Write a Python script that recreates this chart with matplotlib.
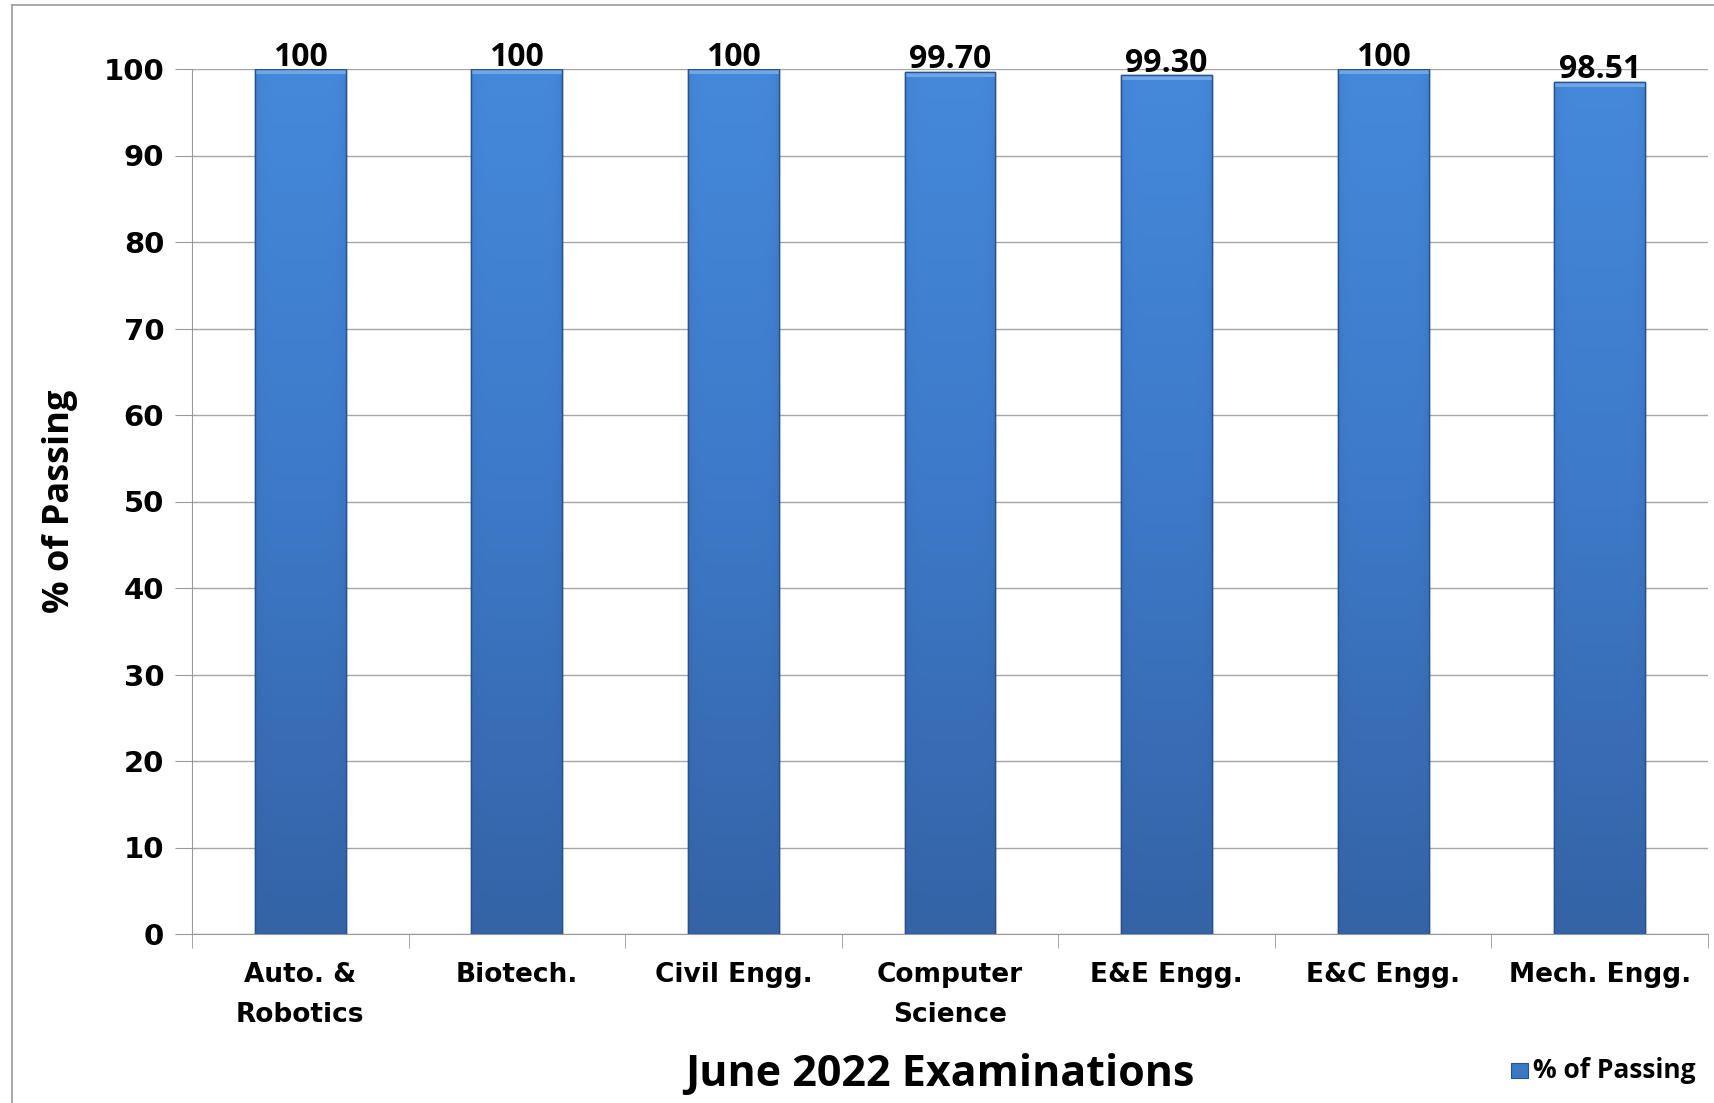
import numpy as np
import matplotlib.pyplot as plt
from matplotlib.patches import Rectangle
from matplotlib.colors import LinearSegmentedColormap

# Data
departments = ['Auto. &\nRobotics', 'Biotech.', 'Civil Engg.', 'Computer\nScience',
               'E&E Engg.', 'E&C Engg.', 'Mech. Engg.']
pass_pct = [100, 100, 100, 99.70, 99.30, 100, 98.51]
pct_labels = ['100', '100', '100', '99.70', '99.30', '100', '98.51']
y_ticks = [0, 10, 20, 30, 40, 50, 60, 70, 80, 90, 100]

label_font = ['Open Sans', 'DejaVu Sans']

fig = plt.figure(figsize=(17.15, 11.03), dpi=100)
ax = fig.add_axes([192/1715, 1 - 934/1103, (1708-192)/1715, (934-69)/1103])

x = np.arange(len(departments))
bars = ax.bar(x, pass_pct, width=0.42, color='#3c78c6', edgecolor='#2a528a',
              linewidth=1.0, zorder=3)

# vertical gradient with slightly darker sides, clipped to each bar
grad_cmap = LinearSegmentedColormap.from_list('bar', ['#3463a6', '#3d79c8', '#4589da'])
vert = np.linspace(0, 1, 256)[:, None]
horiz = np.linspace(-1, 1, 64)[None, :]
shade = vert * (1 - 0.25 * horiz ** 8)
for b in bars:
    x0, w, h = b.get_x(), b.get_width(), b.get_height()
    im = ax.imshow(shade, cmap=grad_cmap, origin='lower', aspect='auto',
                   extent=[x0, x0 + w, 0, h], zorder=3.5, vmin=0, vmax=1)
    im.set_clip_path(b)
    # light bevel along the top edge
    ax.add_patch(Rectangle((x0, h - 0.6), w, 0.6, facecolor='#6ea6e8',
                           edgecolor='none', zorder=3.8))
    ax.add_patch(Rectangle((x0, 0), w, h, fill=False, edgecolor='#2a528a',
                           linewidth=1.0, zorder=4))

for xi, v, s in zip(x, pass_pct, pct_labels):
    ax.text(xi, v + 0.4, s, ha='center', va='baseline', fontsize=23,
            fontweight='bold', family=label_font, zorder=5)

ax.set_xlim(-0.5, len(departments) - 0.5)
ax.set_ylim(0, 100)
ax.set_yticks(y_ticks)
ax.set_yticklabels([str(t) for t in y_ticks], fontsize=21, fontweight='bold',
                   family='DejaVu Sans')
ax.set_xticks(x)
ax.set_xticklabels(departments, fontsize=19, fontweight='bold', family='DejaVu Sans',
                   linespacing=1.7)
ax.set_xticks(np.arange(len(departments) + 1) - 0.5, minor=True)
ax.tick_params(axis='x', which='major', length=0, pad=20)
ax.tick_params(axis='x', which='minor', length=10, color='#999999', direction='out')
ax.tick_params(axis='y', length=12, color='#999999', pad=8)

ax.grid(axis='y', color='#a6a6a6', linewidth=1.0, zorder=0)
ax.set_axisbelow(True)
for side in ['top', 'right']:
    ax.spines[side].set_visible(False)
for side in ['left', 'bottom']:
    ax.spines[side].set_color('#999999')

ax.set_ylabel('% of Passing', fontsize=26, fontweight='bold', family=label_font)
ax.yaxis.set_label_coords(-0.075, 0.5)
ax.set_xlabel('June 2022 Examinations', fontsize=31, fontweight='bold',
              family=label_font)
ax.xaxis.set_label_coords(0.493, -0.162)
ax.xaxis.label.set_va('center')

# legend bottom-right
fig.patches.append(Rectangle((1511/1715, 1 - 1078/1103), 17/1715, 15/1103,
                             transform=fig.transFigure, facecolor='#3c78c6',
                             edgecolor='#2a528a', linewidth=0.8))
fig.text(1533/1715, 1 - 1070/1103, '% of Passing', fontsize=19, fontweight='bold',
         family=label_font, va='center', ha='left')

# outer chart frame
fig.add_artist(plt.Line2D([12/1715, 12/1715], [0, 1 - 5/1103], color='#999999',
                          linewidth=1.2, transform=fig.transFigure))
fig.add_artist(plt.Line2D([12/1715, 1], [1 - 5/1103, 1 - 5/1103], color='#999999',
                          linewidth=1.2, transform=fig.transFigure))

fig.savefig('out.png', dpi=100)
